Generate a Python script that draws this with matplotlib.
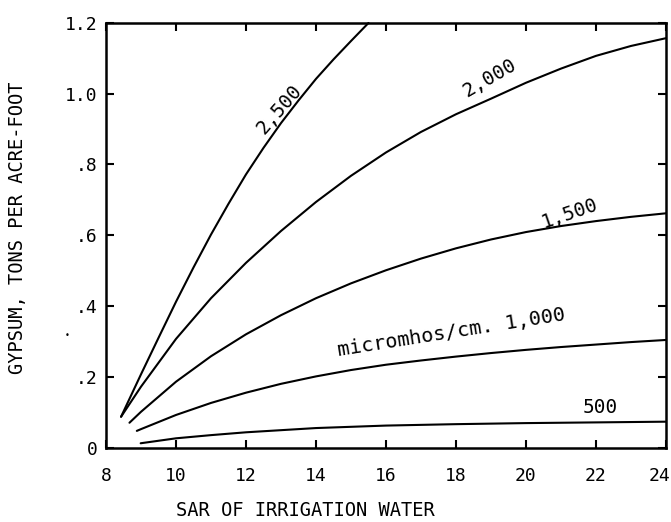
import matplotlib
matplotlib.use("Agg")
import matplotlib.pyplot as plt
from matplotlib.transforms import ScaledTranslation

# curves: SAR vs gypsum (tons per acre-foot)
x_2500 = [8.43, 9.0, 9.5, 10.0, 10.5, 11.0, 11.5, 12.0, 12.5, 13.0, 13.5, 14.0, 14.5, 15.0, 15.5]
y_2500 = [0.087, 0.207, 0.31, 0.412, 0.509, 0.602, 0.689, 0.772, 0.847, 0.917, 0.981, 1.042, 1.097, 1.149, 1.2]

x_2000 = [8.43, 9.0, 10.0, 11.0, 12.0, 13.0, 14.0, 15.0, 16.0, 17.0, 18.0, 19.0, 20.0, 21.0, 22.0, 23.0, 24.0]
y_2000 = [0.087, 0.172, 0.307, 0.422, 0.522, 0.612, 0.694, 0.768, 0.834, 0.892, 0.942, 0.986, 1.031, 1.071, 1.107, 1.135, 1.157]

x_1500 = [8.67, 9.0, 10.0, 11.0, 12.0, 13.0, 14.0, 15.0, 16.0, 17.0, 18.0, 19.0, 20.0, 21.0, 22.0, 23.0, 24.0]
y_1500 = [0.07, 0.101, 0.186, 0.258, 0.32, 0.374, 0.422, 0.464, 0.501, 0.534, 0.563, 0.588, 0.609, 0.626, 0.64, 0.652, 0.662]

x_1000 = [8.88, 9.0, 10.0, 11.0, 12.0, 13.0, 14.0, 15.0, 16.0, 17.0, 18.0, 19.0, 20.0, 21.0, 22.0, 23.0, 24.0]
y_1000 = [0.047, 0.052, 0.092, 0.126, 0.155, 0.18, 0.201, 0.219, 0.234, 0.246, 0.257, 0.267, 0.276, 0.284, 0.291, 0.298, 0.304]

x_500 = [8.99, 10.0, 11.0, 12.0, 13.0, 14.0, 16.0, 18.0, 20.0, 22.0, 24.0]
y_500 = [0.012, 0.026, 0.035, 0.043, 0.049, 0.055, 0.062, 0.066, 0.069, 0.071, 0.073]

x_ticks = [8, 10, 12, 14, 16, 18, 20, 22, 24]
y_ticks = [0, 0.2, 0.4, 0.6, 0.8, 1.0, 1.2]
y_tick_labels = ["0", ".2", ".4", ".6", ".8", "1.0", "1.2"]

FONT = "DejaVu Sans Mono"


def main():
    fig = plt.figure(figsize=(6.71, 5.22), dpi=100)
    ax = fig.add_axes([0.158, 0.1427, 0.8345, 0.8133])

    for xs, ys in [(x_2500, y_2500), (x_2000, y_2000), (x_1500, y_1500),
                   (x_1000, y_1000), (x_500, y_500)]:
        ax.plot(xs, ys, color="black", lw=1.5, solid_capstyle="round",
                solid_joinstyle="round", clip_on=False)

    ax.set_xlim(8, 24)
    ax.set_ylim(0, 1.2)
    ax.set_xticks(x_ticks)
    ax.set_yticks(y_ticks)
    ax.set_xticklabels([str(v) for v in x_ticks], fontfamily=FONT, fontsize=13)
    ax.set_yticklabels(y_tick_labels, fontfamily=FONT, fontsize=13)
    ax.tick_params(direction="in", length=6, width=1.5, top=True, right=True)
    ax.tick_params(axis="x", pad=14)
    ax.tick_params(axis="y", pad=6)
    for s in ax.spines.values():
        s.set_linewidth(1.8)

    # last x label sits a little left so it stays inside the picture
    last = ax.get_xticklabels()[-1]
    last.set_transform(last.get_transform() + ScaledTranslation(-6 / 100, 0, fig.dpi_scale_trans))

    lab = dict(fontfamily=FONT, fontsize=14, ha="center", va="center",
               rotation_mode="anchor")
    ax.text(12.94, 0.957, "2,500", rotation=49, **lab)
    ax.text(18.96, 1.045, "2,000", rotation=30, **lab)
    ax.text(21.26, 0.662, "1,500", rotation=19, **lab)
    ax.text(17.87, 0.325, "micromhos/cm. 1,000", rotation=9,
            **{**lab, "fontsize": 14.5})
    ax.text(22.12, 0.112, "500", rotation=0, **lab)

    fig.text(305 / 671, 1 - 510 / 522, "SAR OF IRRIGATION WATER",
             fontfamily=FONT, fontsize=13.5, ha="center", va="center")
    fig.text(18 / 671, 1 - 228 / 522, "GYPSUM, TONS PER ACRE-FOOT",
             fontfamily=FONT, fontsize=13.5, ha="center", va="center", rotation=90)
    fig.text(67 / 671, 1 - 336 / 522, "•", fontsize=6, ha="center", va="center")

    fig.savefig("out.png", dpi=100)


if __name__ == "__main__":
    main()
